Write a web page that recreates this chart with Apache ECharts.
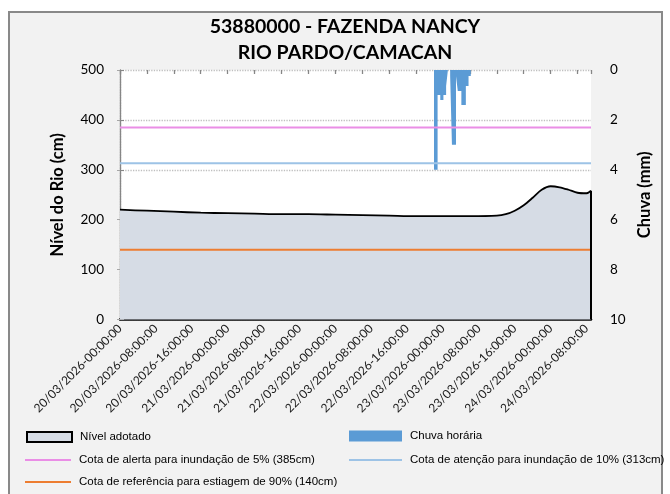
<!DOCTYPE html>
<html>
<head>
<meta charset="utf-8">
<script src="https://cdn.jsdelivr.net/npm/echarts@6/dist/echarts.min.js"></script>
<style>
  html, body { margin: 0; padding: 0; background: #fff; }
  #chart { width: 670px; height: 494px; }
</style>
</head>
<body>
<div id="chart"></div>
<script>
// hours counted from 20/03/2026 00:00
var levelHours = [0, 6, 12, 18, 24, 30, 36, 42, 48, 54, 60, 66, 72, 78, 84, 86, 88, 90, 92, 94, 96, 98, 100, 102, 104, 105];
var levelCm = [220, 218, 216, 214, 213, 212, 211, 211, 210, 209, 208, 207, 207, 207, 208, 211, 218, 229, 244, 260, 267, 265, 260, 254, 253, 258];

var rainHours = [70.0, 70.8, 71.4, 72.1, 72.7, 73.1, 73.6, 74.0, 74.9, 75.3, 76.1, 77.1, 77.7, 78.2];
var rainMm = [4.0, 1.0, 1.2, 1.0, 0.64, 0, 0.24, 3.0, 0.24, 0.84, 1.4, 0.64, 0.24, 0];

var xLabels = [
  '20/03/2026-00:00:00', '20/03/2026-08:00:00', '20/03/2026-16:00:00',
  '21/03/2026-00:00:00', '21/03/2026-08:00:00', '21/03/2026-16:00:00',
  '22/03/2026-00:00:00', '22/03/2026-08:00:00', '22/03/2026-16:00:00',
  '23/03/2026-00:00:00', '23/03/2026-08:00:00', '23/03/2026-16:00:00',
  '24/03/2026-00:00:00', '24/03/2026-08:00:00'
];

var alertaCm = 385;
var atencaoCm = 313;
var estiagemCm = 140;
var xMax = 105;

var nomeNivel = 'Nível adotado';
var nomeChuva = 'Chuva horária';
var nomeAlerta = 'Cota de alerta para inundação de 5% (385cm)';
var nomeAtencao = 'Cota de atenção para inundação de 10% (313cm)';
var nomeEstiagem = 'Cota de referência para estiagem de 90% (140cm)';

var FONT = 'Lato, "Open Sans", sans-serif';
var LEGEND_FONT = '"Liberation Sans Narrow", "Liberation Sans", sans-serif';

function pairs(xs, ys) {
  return xs.map(function (x, i) { return [x, ys[i]]; });
}

// one legend box per entry, so each row sits where the reference has it
function legendItem(name, left, top, w, h, style) {
  return {
    left: left,
    top: top,
    padding: 0,
    itemWidth: w,
    itemHeight: h,
    textStyle: { fontFamily: LEGEND_FONT, fontSize: 11.5, color: '#000', padding: [0, 0, 0, 3] },
    data: [{ name: name, icon: 'rect', itemStyle: style }]
  };
}

var chart = echarts.init(document.getElementById('chart'));

chart.setOption({
  backgroundColor: '#fff',
  animation: false,
  graphic: [{
    type: 'rect',
    z: -10,
    shape: { x: 9, y: 12, width: 653, height: 490 },
    style: { fill: '#f2f2f2', stroke: '#898989', lineWidth: 2 }
  }],
  title: {
    text: '53880000 - FAZENDA NANCY\nRIO PARDO/CAMACAN',
    left: 345,
    textAlign: 'center',
    top: 14,
    padding: 0,
    textStyle: {
      fontFamily: FONT,
      fontWeight: 'bold',
      fontSize: 19.5,
      lineHeight: 26,
      color: '#000'
    }
  },
  grid: {
    left: 120,
    right: 79,
    top: 70,
    bottom: 174.5,
    show: true,
    backgroundColor: '#fff',
    borderWidth: 0
  },
  legend: [
    legendItem(nomeNivel, 26, 431, 45, 10, { color: '#d6dce5', borderColor: '#000', borderWidth: 2 }),
    legendItem(nomeAlerta, 25, 454, 46, 2, { color: '#ea8ee6' }),
    legendItem(nomeEstiagem, 25, 476, 46, 2, { color: '#ed7d31' }),
    legendItem(nomeChuva, 349, 430, 53, 11, { color: '#5b9bd5' }),
    legendItem(nomeAtencao, 349, 454, 53, 2, { color: '#9dc3e6' })
  ],
  xAxis: [{
    type: 'value',
    min: 0,
    max: xMax,
    interval: 8,
    axisLine: { lineStyle: { color: '#000', width: 2.5 } },
    axisTick: { show: false },
    splitLine: { show: false },
    axisLabel: {
      rotate: 45,
      margin: 7,
      fontFamily: FONT,
      fontSize: 12,
      color: '#1a1a1a',
      showMaxLabel: false,
      formatter: function (v) { return xLabels[Math.round(v / 8)] || ''; }
    }
  }, {
    type: 'value',
    position: 'bottom',
    min: 0,
    max: xMax,
    interval: 6,
    axisLine: { show: false },
    axisLabel: { show: false },
    splitLine: { show: false },
    axisTick: { show: true, length: 4, lineStyle: { color: '#868686', width: 1.3 } }
  }],
  yAxis: [{
    type: 'value',
    name: 'Nível do Rio (cm)',
    nameLocation: 'middle',
    nameGap: 54,
    nameTextStyle: { fontFamily: FONT, fontWeight: 'bold', fontSize: 16.5, color: '#000' },
    min: 0,
    max: 500,
    interval: 100,
    axisLine: { show: true, lineStyle: { color: '#a6a6a6', type: 'dotted', width: 1.3 } },
    axisTick: { show: true, length: 3, lineStyle: { color: '#a6a6a6' } },
    splitLine: { show: true, lineStyle: { color: '#bfbfbf', type: 'dotted', width: 1.3 } },
    axisLabel: { margin: 16, fontFamily: FONT, fontSize: 13.5, color: '#000' }
  }, {
    type: 'value',
    name: 'Chuva (mm)',
    nameLocation: 'middle',
    nameGap: 32,
    nameTextStyle: { fontFamily: FONT, fontWeight: 'bold', fontSize: 16.5, color: '#000' },
    min: 0,
    max: 10,
    interval: 2,
    inverse: true,
    axisLine: { show: true, lineStyle: { color: '#868686', width: 1.3 } },
    axisTick: { show: true, length: 4, lineStyle: { color: '#868686' } },
    splitLine: { show: false },
    axisLabel: { margin: 19, fontFamily: FONT, fontSize: 13.5, color: '#000' }
  }],
  series: [{
    name: nomeNivel,
    type: 'line',
    xAxisIndex: 0,
    yAxisIndex: 0,
    data: pairs(levelHours, levelCm),
    smooth: 0.3,
    showSymbol: false,
    symbol: 'none',
    lineStyle: { color: '#000', width: 1.8 },
    itemStyle: { color: '#d6dce5' },
    areaStyle: { color: '#d6dce5', opacity: 1 },
    z: 2,
    markLine: {
      silent: true,
      symbol: 'none',
      label: { show: false },
      lineStyle: { color: '#000', width: 2, type: 'solid' },
      data: [[{ coord: [xMax, 0] }, { coord: [xMax, levelCm[levelCm.length - 1]] }]]
    }
  }, {
    name: nomeChuva,
    type: 'line',
    xAxisIndex: 0,
    yAxisIndex: 1,
    step: 'end',
    data: [[rainHours[0], 0]].concat(pairs(rainHours, rainMm)),
    showSymbol: false,
    symbol: 'none',
    lineStyle: { width: 0 },
    itemStyle: { color: '#5b9bd5' },
    areaStyle: { color: '#5b9bd5', opacity: 1 },
    z: 3
  }, {
    name: nomeAlerta,
    type: 'line',
    data: [[0, alertaCm], [xMax, alertaCm]],
    showSymbol: false,
    symbol: 'none',
    lineStyle: { color: '#ea8ee6', width: 2 },
    itemStyle: { color: '#ea8ee6' },
    z: 4
  }, {
    name: nomeAtencao,
    type: 'line',
    data: [[0, atencaoCm], [xMax, atencaoCm]],
    showSymbol: false,
    symbol: 'none',
    lineStyle: { color: '#9dc3e6', width: 2 },
    itemStyle: { color: '#9dc3e6' },
    z: 4
  }, {
    name: nomeEstiagem,
    type: 'line',
    data: [[0, estiagemCm], [xMax, estiagemCm]],
    showSymbol: false,
    symbol: 'none',
    lineStyle: { color: '#ed7d31', width: 2 },
    itemStyle: { color: '#ed7d31' },
    z: 4
  }]
});
</script>
</body>
</html>
